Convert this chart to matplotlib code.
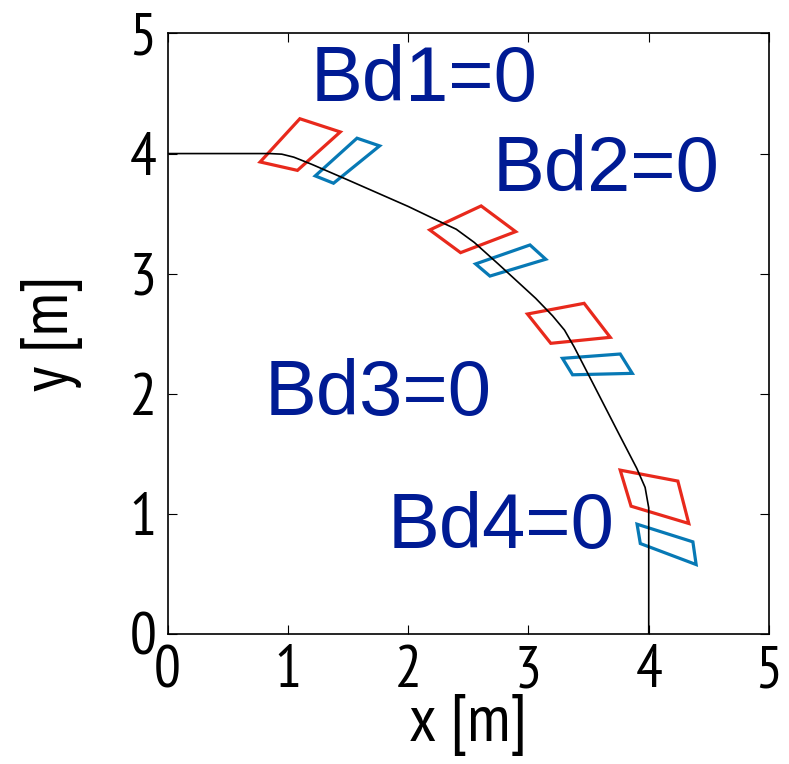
import matplotlib
matplotlib.use("Agg")
import matplotlib.pyplot as plt
from matplotlib import font_manager

# trajectory (black line)
path_x = [0.0, 0.85, 0.95, 1.05, 1.2, 1.5, 2.0, 2.25, 2.4, 2.55, 2.75, 3.06, 3.2, 3.3, 3.38, 3.55, 3.75, 3.9, 3.97, 4.0, 4.0]
path_y = [4.0, 4.0, 3.995, 3.97, 3.91, 3.78, 3.56, 3.44, 3.37, 3.26, 3.08, 2.795, 2.65, 2.53, 2.39, 2.06, 1.67, 1.38, 1.22, 1.05, 0.0]

# red boxes (x, y corners)
red_x = [[1.10, 1.436, 1.08, 0.77],
         [2.607, 2.894, 2.436, 2.18],
         [3.463, 3.68, 3.186, 2.992],
         [3.763, 4.242, 4.333, 3.853]]
red_y = [[4.29, 4.18, 3.86, 3.93],
         [3.564, 3.35, 3.175, 3.364],
         [2.753, 2.47, 2.42, 2.664],
         [1.364, 1.273, 0.92, 1.064]]

# blue boxes
blue_x = [[1.575, 1.763, 1.38, 1.228],
          [3.013, 3.144, 2.68, 2.561],
          [3.763, 3.863, 3.367, 3.283],
          [3.903, 4.367, 4.394, 3.93]]
blue_y = [[4.128, 4.064, 3.753, 3.814],
          [3.239, 3.12, 2.98, 3.081],
          [2.331, 2.17, 2.158, 2.295],
          [0.914, 0.767, 0.578, 0.753]]

labels = ['Bd1=0', 'Bd2=0', 'Bd3=0', 'Bd4=0']
label_x = [1.19, 2.70, 0.81, 1.83]
label_y = [4.436, 3.686, 1.825, 0.714]

ticks = [0, 1, 2, 3, 4, 5]


def find_narrow():
    """ look for a narrow / condensed sans font, else plain Liberation Sans """
    fl = font_manager.fontManager.ttflist
    for f in fl:
        if 'Narrow' in f.name and 'Sans' in f.name and f.weight in (400, 'normal') and f.style == 'normal':
            return font_manager.FontProperties(fname=f.fname), True
    for f in fl:
        if f.name == 'DejaVu Sans' and f.stretch == 'condensed' and f.weight in (400, 'normal') and f.style == 'normal':
            return font_manager.FontProperties(fname=f.fname), True
    return font_manager.FontProperties(family='Liberation Sans'), False


fp, is_narrow = find_narrow()
tsize = 43 if is_narrow else 40
lsize = 48 if is_narrow else 44

fig = plt.figure(figsize=(7.89, 7.64), dpi=100)
ax = fig.add_axes([0.2123, 0.1702, 0.7624, 0.786])

ax.plot(path_x, path_y, color='black', lw=1.2)
for i in range(len(red_x)):
    ax.fill(red_x[i], red_y[i], fill=False, edgecolor='#e8291c', lw=2.3)
    ax.fill(blue_x[i], blue_y[i], fill=False, edgecolor='#0779b5', lw=2.3)

for i in range(len(labels)):
    ax.text(label_x[i], label_y[i], labels[i], color='#001b94', fontsize=56,
            family='Liberation Sans', ha='left', va='baseline')

ax.set_xlim(0, 5)
ax.set_ylim(0, 5)
ax.set_xticks(ticks)
ax.set_yticks(ticks)
ax.tick_params(direction='in', length=6.5, width=0.8, top=True, right=True, pad=8)
for lab in ax.get_xticklabels() + ax.get_yticklabels():
    lab.set_fontproperties(fp)
    lab.set_fontsize(tsize)
for s in ax.spines.values():
    s.set_linewidth(1.2)

ax.set_xlabel('x [m]', fontproperties=fp, fontsize=lsize)
ax.set_ylabel('y [m]', fontproperties=fp, fontsize=lsize)
ax.xaxis.set_label_coords(0.5, -0.1)
ax.yaxis.set_label_coords(-0.14, 0.5)

fig.savefig('out.png', dpi=100)
